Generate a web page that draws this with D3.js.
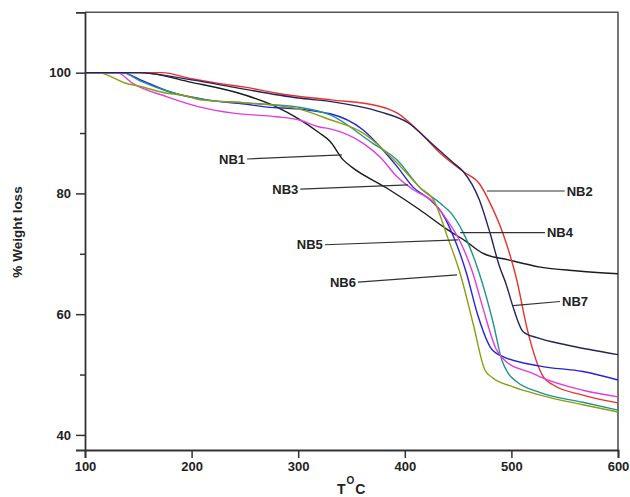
<!DOCTYPE html>
<html>
<head>
<meta charset="utf-8">
<script src="https://cdn.jsdelivr.net/npm/d3@7"></script>
<style>
  html, body { margin: 0; padding: 0; background: #fff; }
  svg { display: block; }
  text { font-family: "Liberation Sans", Arial, sans-serif; font-weight: bold; fill: #222; }
</style>
</head>
<body>
<svg id="chart" width="630" height="497"></svg>
<script>
// ---- data ----
const xTicks = [100, 200, 300, 400, 500, 600];
const yTicks = [40, 60, 80, 100];
const yMinorTicks = [50, 70, 90];

const seriesNames = ["NB1", "NB2", "NB3", "NB4", "NB5", "NB6", "NB7"];
const seriesColors = ["#1c1c1c", "#e8322c", "#2424d6", "#1f948c", "#e03ce0", "#8e9c12", "#23235e"];

const nb1 = [[100,100],[152,100],[200,98.4],[250,96.3],[280,94.3],[300,92.4],[320,90],[330,88.6],[342,85.6],[350,84.4],[383,80.9],[414,77.3],[440,74],[457,72.1],[473,70.1],[497,69],[527,67.8],[560,67.2],[600,66.7]];
const nb2 = [[100,100],[172,100],[200,99],[230,98.1],[250,97.6],[280,96.6],[300,96.1],[331,95.5],[377,94.4],[393,93.3],[412,90.5],[433,86.7],[455,83.6],[470,81.6],[480,78.4],[492,73.4],[505,65.7],[515,57.4],[530,49.6],[539,48.3],[567,46.6],[600,45.3]];
const nb3 = [[100,100],[135,100],[152,98.8],[180,96.8],[214,95.5],[250,94.8],[271,94.3],[300,94],[320,93.5],[330,93.2],[361,90.5],[377,87.7],[393,84.4],[408,81],[424,78.9],[434,77],[447,72.3],[458,66.7],[468,60.1],[480,54.6],[489,53.2],[527,51.4],[567,50.5],[600,49.1]];
const nb4 = [[100,100],[135,100],[152,98.6],[180,96.8],[214,95.5],[250,95],[300,94.3],[330,93],[370,88.3],[393,85.5],[414,81],[433,78.4],[444,76.6],[458,72.3],[470,66.7],[483,58.5],[491,52.4],[497,50.2],[505,48.8],[527,47],[567,45.4],[600,44.1]];
const nb5 = [[100,100],[130,100],[145,98.2],[177,96],[208,94.3],[239,93.3],[280,92.7],[300,92.2],[320,91],[330,90.7],[361,88.3],[377,86],[393,82.7],[408,80.6],[426,78.7],[440,75.5],[452,72],[464,66.7],[473,61.2],[486,54.1],[496,52],[520,50.2],[527,49.6],[567,47.4],[600,46.3]];
const nb6 = [[100,100],[112,100],[139,98.2],[150,97.8],[177,96.6],[194,96.2],[208,95.5],[250,95],[300,94],[330,92.2],[361,90],[393,85],[414,81],[428,78.6],[440,72.8],[452,66.7],[464,58.5],[475,50.8],[482,49.5],[501,48],[527,46.6],[567,45],[600,43.8]];
const nb7 = [[100,100],[150,100],[200,98.8],[245,97.4],[300,95.8],[331,95.2],[377,93.5],[403,91.7],[425,88.3],[446,85],[455,83.6],[470,78.9],[480,73.4],[489,67.8],[495,65],[501,61.5],[511,57.1],[524,56.1],[552,54.9],[600,53.3]];
const seriesData = [nb1, nb2, nb3, nb4, nb5, nb6, nb7];

// leader lines: label, start and end (data units), text side
const leaderNames = ["NB1", "NB3", "NB2", "NB4", "NB5", "NB6", "NB7"];
const leaderStart = [[252, 85.7], [302, 80.7], [477, 80.4], [452, 73.5], [325, 71.5], [356, 65.3], [501.5, 61.4]];
const leaderEnd = [[341, 86.4], [403, 81.4], [550, 80.4], [531.5, 73.5], [450, 72.3], [449, 66.5], [545.6, 62.1]];
const leaderTextSide = ["left", "left", "right", "right", "left", "left", "right"];

// ---- drawing ----
const svg = d3.select("#chart");
const x = d3.scaleLinear().domain([100, 600]).range([85, 618]);
const y = d3.scaleLinear().domain([37.5, 110]).range([450, 12.3]);

// frame top/right
svg.append("path")
  .attr("d", `M${x(100)},${y(110)} H${x(600)} V${y(37.5)}`)
  .attr("fill", "none").attr("stroke", "#555").attr("stroke-width", 1.6);

// curves
const line = d3.line().x(d => x(d[0])).y(d => y(d[1])).curve(d3.curveMonotoneX);
seriesData.forEach((d, i) => {
  svg.append("path").datum(d)
    .attr("d", line)
    .attr("fill", "none")
    .attr("stroke", seriesColors[i])
    .attr("stroke-width", 1.4)
    .attr("stroke-linejoin", "round");
});

// axes
const gx = svg.append("g").attr("transform", `translate(0,${y(37.5)})`)
  .call(d3.axisBottom(x).tickValues(xTicks).tickSize(8).tickPadding(4).tickFormat(d3.format("d")));
const gy = svg.append("g").attr("transform", `translate(${x(100)},0)`)
  .call(d3.axisLeft(y).tickValues(yTicks).tickSize(9).tickPadding(5).tickFormat(d3.format("d")));
const gym = svg.append("g").attr("transform", `translate(${x(100)},0)`)
  .call(d3.axisLeft(y).tickValues(yMinorTicks).tickSize(5).tickFormat(""));
[gx, gy, gym].forEach(g => {
  g.select(".domain").attr("stroke", "#333").attr("stroke-width", 1.8);
  g.selectAll(".tick line").attr("stroke", "#333").attr("stroke-width", 1.5);
  g.selectAll(".tick text").attr("font-size", 13).attr("font-family", "Liberation Sans, Arial, sans-serif").attr("font-weight", "bold").attr("fill", "#222");
});
gym.select(".domain").remove();

// leaders and labels
leaderNames.forEach((name, i) => {
  const [x0, y0] = leaderStart[i];
  const [x1, y1] = leaderEnd[i];
  svg.append("line")
    .attr("x1", x(x0)).attr("y1", y(y0)).attr("x2", x(x1)).attr("y2", y(y1))
    .attr("stroke", "#333").attr("stroke-width", 1.2);
  const left = leaderTextSide[i] === "left";
  svg.append("text")
    .attr("x", left ? x(x0) - 2 : x(x1) + 2)
    .attr("y", left ? y(y0) : y(y1))
    .attr("dy", "0.35em")
    .attr("text-anchor", left ? "end" : "start")
    .attr("font-size", 13)
    .text(name);
});

// axis titles
svg.append("text")
  .attr("transform", `translate(22,232) rotate(-90)`)
  .attr("text-anchor", "middle")
  .attr("font-size", 13.5)
  .text("% Weight loss");

const xt = svg.append("text").attr("x", 337).attr("y", 494).attr("font-size", 14);
xt.append("tspan").text("T");
xt.append("tspan").attr("dy", -10).attr("dx", 1).attr("font-size", 10).text("O");
xt.append("tspan").attr("dy", 10).attr("dx", 1).text("C");
</script>
</body>
</html>
